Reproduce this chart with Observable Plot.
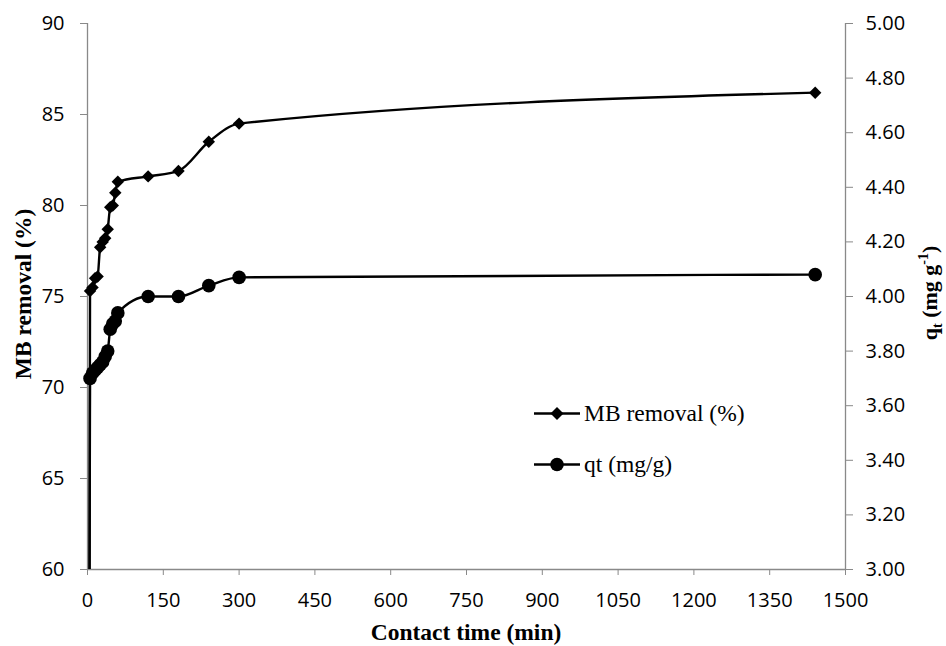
<!DOCTYPE html>
<html><head><meta charset="utf-8">
<script src="https://cdn.jsdelivr.net/npm/d3@7"></script>
<script src="https://cdn.jsdelivr.net/npm/@observablehq/plot@0.6"></script>
<style>
body{margin:0;background:#fff;}
#wrap{position:relative;width:946px;height:646px;}
.legend{position:absolute;left:534px;font-family:"Liberation Serif","Times New Roman",serif;font-size:23.5px;color:#000;display:flex;align-items:center;line-height:1;}
.legend svg{margin-right:4px;}
</style></head><body><div id="wrap"></div>
<script>
// contact time (min)
const times = [0, 5, 10, 15, 20, 25, 30, 35, 40, 45, 50, 55, 60, 120, 180, 240, 300, 1440];
// MB removal (%)
const mbRemoval = [0, 75.3, 75.5, 76.0, 76.1, 77.7, 78.0, 78.2, 78.7, 79.9, 80.0, 80.7, 81.3, 81.6, 81.9, 83.5, 84.5, 86.2];
// qt (mg/g)
const qt = [0, 3.70, 3.72, 3.73, 3.74, 3.75, 3.76, 3.78, 3.80, 3.88, 3.90, 3.91, 3.94, 4.00, 4.00, 4.04, 4.07, 4.08];

const xTicks = [0, 150, 300, 450, 600, 750, 900, 1050, 1200, 1350, 1500];
const leftTicks = [60, 65, 70, 75, 80, 85, 90];
const rightTicks = [3.0, 3.2, 3.4, 3.6, 3.8, 4.0, 4.2, 4.4, 4.6, 4.8, 5.0];

const L0 = 60, L1 = 90, R0 = 3, R1 = 5;
const toLeft = q => L0 + (q - R0) * (L1 - L0) / (R1 - R0);
const fromLeft = v => R0 + (v - L0) * (R1 - R0) / (L1 - L0);

const mbData = times.map((t, i) => ({t, v: mbRemoval[i]}));
const qtData = times.map((t, i) => ({t, v: toLeft(qt[i])}));
const mbDots = mbData.filter(d => d.t > 0);
const qtDots = qtData.filter(d => d.t > 0);

const axisGray = "#898989";

const chart = Plot.plot({
  width: 946, height: 646,
  marginLeft: 87, marginRight: 101, marginTop: 23, marginBottom: 77,
  style: {fontFamily: "'Open Sans', sans-serif", fontSize: "20px", background: "#fff", color: "#000"},
  x: {domain: [0, 1500]},
  y: {domain: [L0, L1]},
  marks: [
    Plot.ruleX([0], {stroke: axisGray, strokeWidth: 1.3}),
    Plot.ruleX([1500], {stroke: axisGray, strokeWidth: 1.3}),
    Plot.ruleY([L0], {stroke: axisGray, strokeWidth: 1.3}),
    Plot.axisX({ticks: xTicks, tickSize: 6, tickPadding: 17, stroke: axisGray, fill: "#000", label: null, tickFormat: d => String(d)}),
    Plot.axisY({anchor: "left", ticks: leftTicks, tickSize: 7, tickPadding: 16, stroke: axisGray, fill: "#000", label: null, tickFormat: d => String(d)}),
    Plot.axisY({anchor: "right", ticks: rightTicks.map(toLeft), tickSize: 7, tickPadding: 13, stroke: axisGray, fill: "#000", label: null, tickFormat: d => fromLeft(d).toFixed(2)}),
    Plot.line(mbData, {x: "t", y: "v", stroke: "#000", strokeWidth: 2.4, curve: "monotone-x", clip: true}),
    Plot.line(qtData, {x: "t", y: "v", stroke: "#000", strokeWidth: 2.4, curve: "monotone-x", clip: true}),
    Plot.dot(mbDots, {x: "t", y: "v", symbol: "diamond2", r: 5.6, fill: "#000", stroke: "none"}),
    Plot.dot(qtDots, {x: "t", y: "v", symbol: "circle", r: 6.8, fill: "#000", stroke: "none"})
  ]
});

const wrap = document.getElementById("wrap");
wrap.appendChild(chart);

const svg = d3.select(chart);
const serif = "'Liberation Serif','Times New Roman',serif";
// x title
svg.append("text").attr("x", 466).attr("y", 640).attr("text-anchor", "middle")
  .attr("font-family", serif).attr("font-weight", "bold").attr("font-size", 23.5).attr("fill", "#000")
  .text("Contact time (min)");
// left title
svg.append("text").attr("transform", "translate(31,294) rotate(-90)").attr("text-anchor", "middle")
  .attr("font-family", serif).attr("font-weight", "bold").attr("font-size", 23.5).attr("fill", "#000")
  .text("MB removal (%)");
// right title
const rt = svg.append("text").attr("transform", "translate(937,293) rotate(-90)").attr("text-anchor", "middle")
  .attr("font-family", serif).attr("font-weight", "bold").attr("font-size", 22).attr("fill", "#000");
rt.append("tspan").text("q");
rt.append("tspan").attr("font-size", 14).attr("dy", 5).text("t");
rt.append("tspan").attr("dy", -5).text(" (mg g");
rt.append("tspan").attr("font-size", 14).attr("dy", -9).text("-1");
rt.append("tspan").attr("dy", 9).text(")");

// legend
const legendItems = [
  {label: "MB removal (%)", sym: "diamond", top: 402},
  {label: "qt (mg/g)", sym: "circle", top: 453}
];
for (const it of legendItems) {
  const div = document.createElement("div");
  div.className = "legend";
  div.style.top = it.top + "px";
  const marker = it.sym === "diamond"
    ? '<path d="M23,1 L29.5,7.5 L23,14 L16.5,7.5 Z" fill="#000"/>'
    : '<circle cx="23" cy="7.5" r="6.8" fill="#000"/>';
  div.innerHTML = '<svg width="46" height="15"><line x1="0" y1="7.5" x2="46" y2="7.5" stroke="#000" stroke-width="2.4"/>' + marker + '</svg><span>' + it.label + '</span>';
  wrap.appendChild(div);
}
</script>
</body></html>
